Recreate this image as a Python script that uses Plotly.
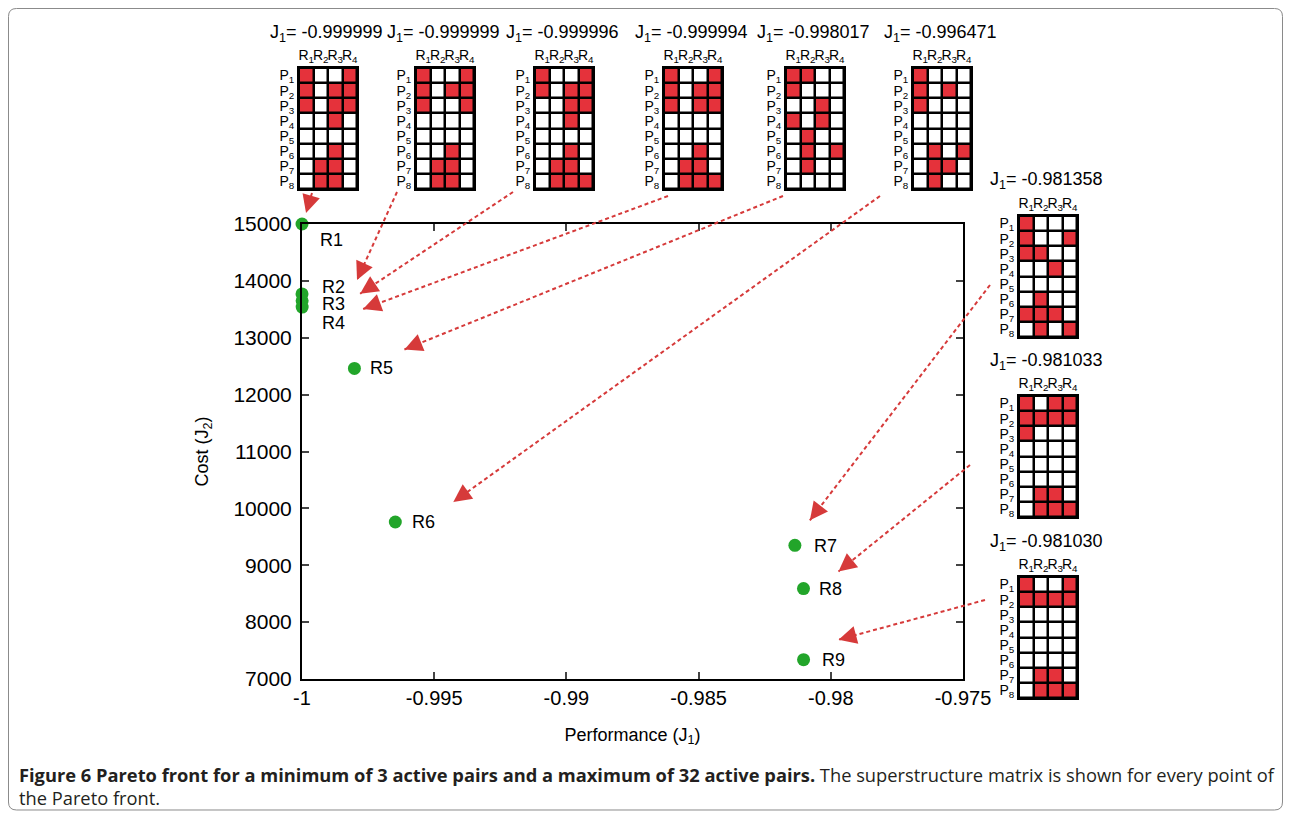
import plotly.graph_objects as go

# ---------------- data ----------------
point_names = ["R1", "R2", "R3", "R4", "R5", "R6", "R7", "R8", "R9"]
performance_j1 = [-0.999999, -0.999999, -0.999996, -0.999994, -0.998017,
                  -0.996471, -0.981358, -0.981033, -0.981030]
cost_j2 = [15000, 13770, 13650, 13540, 12460, 9760, 9350, 8590, 7340]

x_tick_vals = [-1, -0.995, -0.99, -0.985, -0.98, -0.975]
x_tick_text = ["-1", "-0.995", "-0.99", "-0.985", "-0.98", "-0.975"]
y_tick_vals = [7000, 8000, 9000, 10000, 11000, 12000, 13000, 14000, 15000]
y_tick_text = ["7000", "8000", "9000", "10000", "11000", "12000", "13000", "14000", "15000"]

matrix_cols = ["R<sub>1</sub>", "R<sub>2</sub>", "R<sub>3</sub>", "R<sub>4</sub>"]
matrix_rows = ["P<sub>%d</sub>" % i for i in range(1, 9)]

# superstructure matrices (rows P1..P8, columns R1..R4)
matrix_R1 = [[1,0,0,1],[1,0,1,1],[1,0,1,1],[0,0,1,0],[0,0,0,0],[0,0,1,0],[0,1,1,0],[0,1,1,0]]
matrix_R2 = [[1,0,0,1],[1,0,1,1],[1,0,0,1],[0,0,0,0],[0,0,0,0],[0,0,1,0],[0,1,1,0],[0,1,1,0]]
matrix_R3 = [[1,0,0,1],[1,0,1,1],[0,0,1,1],[0,0,1,0],[0,0,0,0],[0,0,1,0],[0,1,1,0],[0,1,1,1]]
matrix_R4 = [[1,0,0,1],[1,0,1,1],[1,0,1,1],[0,0,0,0],[0,0,0,0],[0,0,1,0],[0,1,1,0],[0,1,1,1]]
matrix_R5 = [[1,1,0,0],[1,0,0,0],[0,0,1,0],[1,0,1,0],[0,1,0,0],[0,1,0,1],[0,1,0,0],[0,0,0,0]]
matrix_R6 = [[1,0,0,0],[1,0,1,0],[1,0,0,0],[0,0,0,0],[0,0,0,0],[0,1,0,1],[0,1,1,0],[0,1,0,0]]
matrix_R7 = [[1,0,0,0],[1,0,0,1],[1,1,0,0],[0,0,1,0],[0,0,0,0],[0,1,0,0],[1,1,1,0],[0,1,0,1]]
matrix_R8 = [[1,0,1,1],[1,1,1,1],[1,0,0,0],[0,0,0,0],[0,0,0,0],[0,0,0,0],[0,1,1,0],[0,1,1,1]]
matrix_R9 = [[1,0,0,1],[1,1,1,1],[0,0,0,0],[0,0,0,0],[0,0,0,0],[0,0,0,0],[0,1,1,0],[0,1,1,1]]
matrices = [matrix_R1, matrix_R2, matrix_R3, matrix_R4, matrix_R5,
            matrix_R6, matrix_R7, matrix_R8, matrix_R9]

caption_bold = "Figure 6 Pareto front for a minimum of 3 active pairs and a maximum of 32 active pairs."
caption_rest = " The superstructure matrix is shown for every point of"
caption_line2 = "the Pareto front."

# ---------------- layout constants (page pixels) ----------------
OFF = 8                      # page body margin
W, H = 1275, 803             # figure size
FONT = "Liberation Sans, Arial, sans-serif"
GREEN = "#22a52a"
RED = "#e5323b"
ARROW = "#d63a3a"

main_l, main_r, main_t, main_b = 302, 963, 224, 679
x_range = [-1, -0.975]
y_range = [7000, 15000]

mat_left = [299, 416, 535, 664, 786, 913, 1019, 1019, 1019]
mat_top = [68, 68, 68, 68, 68, 68, 216, 396, 577]
mat_w, mat_h = 58, 121

# label offsets (px) of the point names relative to the points
label_dx = [16, 18, 18, 18, 14, 15, 17, 14, 16]
label_dy = [16, -7, 3, 16, 0, 0, 1, 0, 0]

# arrows: tail (px, near the matrix) and head offset from the point (px)
arrow_tail = [(312, 193), (397, 192), (513, 192), (668, 196), (783, 196),
              (880, 196), (990, 285), (970, 465), (985, 600)]
arrow_head_off = [(4, -11), (55, -14), (58, -7), (61, 2), (50, -19),
                  (58, -20), (15, -25), (35, -17), (35, -20)]


def fx(p):
    return (p - OFF) / W


def fy(p):
    return 1 - (p - OFF) / H


def px(x, y):
    """data -> page pixel for the main axes"""
    X = main_l + (x - x_range[0]) / (x_range[1] - x_range[0]) * (main_r - main_l)
    Y = main_b - (y - y_range[0]) / (y_range[1] - y_range[0]) * (main_b - main_t)
    return X, Y


fig = go.Figure()

fig.add_trace(go.Scatter(
    x=performance_j1, y=cost_j2, mode="markers",
    marker=dict(color=GREEN, size=13, line=dict(width=0)),
    cliponaxis=False, hoverinfo="skip", xaxis="x", yaxis="y", showlegend=False))

layout = dict(
    width=W, height=H,
    margin=dict(l=0, r=0, t=0, b=0),
    paper_bgcolor="white", plot_bgcolor="white",
    font=dict(family=FONT, color="black"),
    showlegend=False,
    xaxis=dict(domain=[fx(main_l), fx(main_r)], anchor="y", range=x_range,
               tickvals=x_tick_vals, ticktext=x_tick_text,
               tickfont=dict(size=20), showline=True, linewidth=2, linecolor="black",
               mirror="allticks", ticks="inside", ticklen=7, tickwidth=2,
               showgrid=False, zeroline=False, automargin=False,
               title=dict(text="Performance (J<sub>1</sub>)", font=dict(size=18), standoff=20)),
    yaxis=dict(domain=[fy(main_b), fy(main_t)], anchor="x", range=y_range,
               tickvals=y_tick_vals, ticktext=y_tick_text, ticklabelstandoff=4,
               tickfont=dict(size=21), showline=True, linewidth=2, linecolor="black",
               mirror="allticks", ticks="inside", ticklen=7, tickwidth=2,
               showgrid=False, zeroline=False, automargin=False,
               title=dict(text="Cost (J<sub>2</sub>)", font=dict(size=18), standoff=20)),
)

shapes = []
annotations = []

for k, (mat, l, t) in enumerate(zip(matrices, mat_left, mat_top)):
    ax_id = k + 2
    xa, ya = "x%d" % ax_id, "y%d" % ax_id
    fig.add_trace(go.Heatmap(
        z=mat, x=[0, 1, 2, 3], y=list(range(8)),
        colorscale=[[0, "#ffffff"], [1, RED]], zmin=0, zmax=1,
        xgap=2.5, ygap=2.5, showscale=False, hoverinfo="skip",
        xaxis=xa, yaxis=ya))
    layout["xaxis%d" % ax_id] = dict(
        domain=[fx(l), fx(l + mat_w)], anchor=ya, side="top", range=[-0.5, 3.5],
        tickvals=[0, 1, 2, 3], ticktext=matrix_cols, tickfont=dict(size=14),
        tickangle=0, ticklabelstandoff=0,
        showline=True, mirror=True, linecolor="black", linewidth=2,
        ticks="", showgrid=False, zeroline=False, fixedrange=True, automargin=False)
    layout["yaxis%d" % ax_id] = dict(
        domain=[fy(t + mat_h), fy(t)], anchor=xa, range=[7.5, -0.5],
        tickvals=list(range(8)), ticktext=matrix_rows, tickfont=dict(size=14),
        ticklabelstandoff=0,
        showline=True, mirror=True, linecolor="black", linewidth=2,
        ticks="", showgrid=False, zeroline=False, fixedrange=True, automargin=False)
    shapes.append(dict(type="rect", xref=xa + " domain", yref=ya + " domain",
                       x0=0, x1=1, y0=0, y1=1, fillcolor="black",
                       line=dict(width=0), layer="below"))
    annotations.append(dict(
        text="J<sub>1</sub>= %.6f" % performance_j1[k],
        xref="paper", yref="paper", x=fx(l + mat_w / 2 - 2), y=fy(t - 35),
        xanchor="center", yanchor="middle", showarrow=False,
        font=dict(size=18, family=FONT)))

for name, xv, yv, dx, dy in zip(point_names, performance_j1, cost_j2, label_dx, label_dy):
    annotations.append(dict(text=name, x=xv, y=yv, xref="x", yref="y",
                            xanchor="left", yanchor="middle", xshift=dx, yshift=-dy,
                            showarrow=False, font=dict(size=18, family=FONT)))

for (tx, ty), (ox, oy), xv, yv in zip(arrow_tail, arrow_head_off, performance_j1, cost_j2):
    pxv, pyv = px(xv, yv)
    hx, hy = pxv + ox, pyv + oy
    shapes.append(dict(type="line", xref="paper", yref="paper",
                       x0=fx(tx), y0=fy(ty), x1=fx(hx), y1=fy(hy),
                       line=dict(color=ARROW, width=2, dash="4px,3px")))
    dxv, dyv = tx - hx, ty - hy
    n = (dxv ** 2 + dyv ** 2) ** 0.5
    L = 9
    annotations.append(dict(text="", x=fx(hx), y=fy(hy), xref="paper", yref="paper",
                            showarrow=True, arrowhead=2, arrowsize=1.8, arrowwidth=2,
                            arrowcolor=ARROW, ax=dxv / n * L, ay=dyv / n * L,
                            axref="pixel", ayref="pixel"))

# rounded outer border (page px)
bx0, by0, bx1, by1, r = 8.5, 8.5, 1282.5, 810, 8
def P(x, y):
    return "%.5f,%.5f" % (fx(x), fy(y))
path = ("M " + P(bx0 + r, by0) + " L " + P(bx1 - r, by0) + " Q " + P(bx1, by0) + " " + P(bx1, by0 + r) +
        " L " + P(bx1, by1 - r) + " Q " + P(bx1, by1) + " " + P(bx1 - r, by1) +
        " L " + P(bx0 + r, by1) + " Q " + P(bx0, by1) + " " + P(bx0, by1 - r) +
        " L " + P(bx0, by0 + r) + " Q " + P(bx0, by0) + " " + P(bx0 + r, by0) + " Z")
shapes.append(dict(type="path", xref="paper", yref="paper", path=path,
                   line=dict(color="#8a8a8a", width=1), layer="below"))

cap_font = dict(size=18.3, family="Open Sans, sans-serif", color="#231f20")
annotations.append(dict(text="<b>" + caption_bold + "</b>" + caption_rest,
                        xref="paper", yref="paper", x=fx(17), y=fy(774),
                        xanchor="left", yanchor="middle", align="left", showarrow=False,
                        font=cap_font))
annotations.append(dict(text=caption_line2,
                        xref="paper", yref="paper", x=fx(17), y=fy(797),
                        xanchor="left", yanchor="middle", align="left", showarrow=False,
                        font=cap_font))

layout["shapes"] = shapes
layout["annotations"] = annotations
fig.update_layout(**layout)
fig.write_html("out.html")
